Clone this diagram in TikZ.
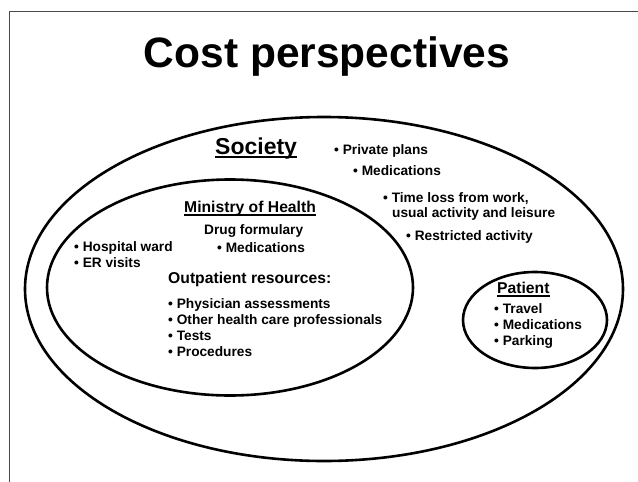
\documentclass[tikz,border=0pt]{standalone}
\usepackage{fontspec}
\setmainfont{Liberation Sans}
\usetikzlibrary{shapes.geometric}
\definecolor{Ink}{HTML}{000000}
\definecolor{FrameGray}{HTML}{4A4A4A}
\tikzset{
  every picture/.append style={font=\bfseries},
  zone/.style={ellipse, draw=Ink, line width=2.6pt, inner sep=0pt},
  txt/.style={anchor=base west, inner sep=0pt, font=\fontsize{13.7}{16.3}\selectfont\bfseries, text=Ink},
  hd/.style={txt, font=\fontsize{15.7}{18}\selectfont\bfseries},
  ttl/.style={anchor=base, inner sep=0pt, font=\fontsize{42.5}{48}\selectfont\bfseries},
}

\begin{document}
\begin{tikzpicture}[x=1pt,y=-1pt]
\useasboundingbox (0,0) rectangle (638,482);

% ---------------- frame and title ----------------------------------------------
\draw[FrameGray, line width=1.4pt] (9.5,482) -- (9.5,11.7) -- (638,11.7);
\node[ttl] (title) at (327,67) {Cost perspectives};

% ---------------- the three nested perspectives -----------------------------------
\node[zone, minimum width=598pt, minimum height=344pt] (soc) at (324,289) {};
\node[zone, minimum width=366pt, minimum height=216pt] (moh) at (230,287.5) {};
\node[zone, minimum width=144pt, minimum height=96pt] (pat) at (535,320) {};

% ---------------- society -------------------------------------------------------
\node[txt, font=\fontsize{23}{26}\selectfont\bfseries] (socT) at (215,154) {Society};
\node[txt] (socA) at (334,154) {• Private plans};
\node[txt] (socB) at (353,175) {• Medications};
\node[txt] (socC) at (383,202) {• Time loss from work,};
\node[txt] (socD) at (392,217) {usual activity and leisure};
\node[txt] (socE) at (406,240) {• Restricted activity};

% ---------------- ministry of health ----------------------------------------------
\node[hd] (mohT) at (184,212) {Ministry of Health};
\node[txt] (drug) at (204,234) {Drug formulary};
\node[txt] (drugA) at (217,252) {• Medications};
\node[txt] (hosp) at (74,251) {• Hospital ward};
\node[txt] (er) at (74,267) {• ER visits};
\node[hd] (outT) at (168,283) {Outpatient resources:};
\foreach \txt [count=\i] in {Physician assessments, Other health care professionals, Tests, Procedures}{
  \node[txt] (out\i) at (168,{308+16.3*(\i-1)}) {• \txt};}

% ---------------- patient -------------------------------------------------------
\node[hd] (patT) at (497,293) {Patient};
\foreach \txt [count=\i] in {Travel, Medications, Parking}{
  \node[txt] (pat\i) at (494,{313+16*(\i-1)}) {• \txt};}

% underlines under the three headings
\foreach \n/\w/\d in {socT/2.0/3.2, mohT/1.5/2.8, patT/1.5/2.8}{
  \draw[line width=\w pt] ([yshift=-\d pt]\n.base west) -- ([yshift=-\d pt]\n.base east);}

\end{tikzpicture}
\end{document}
